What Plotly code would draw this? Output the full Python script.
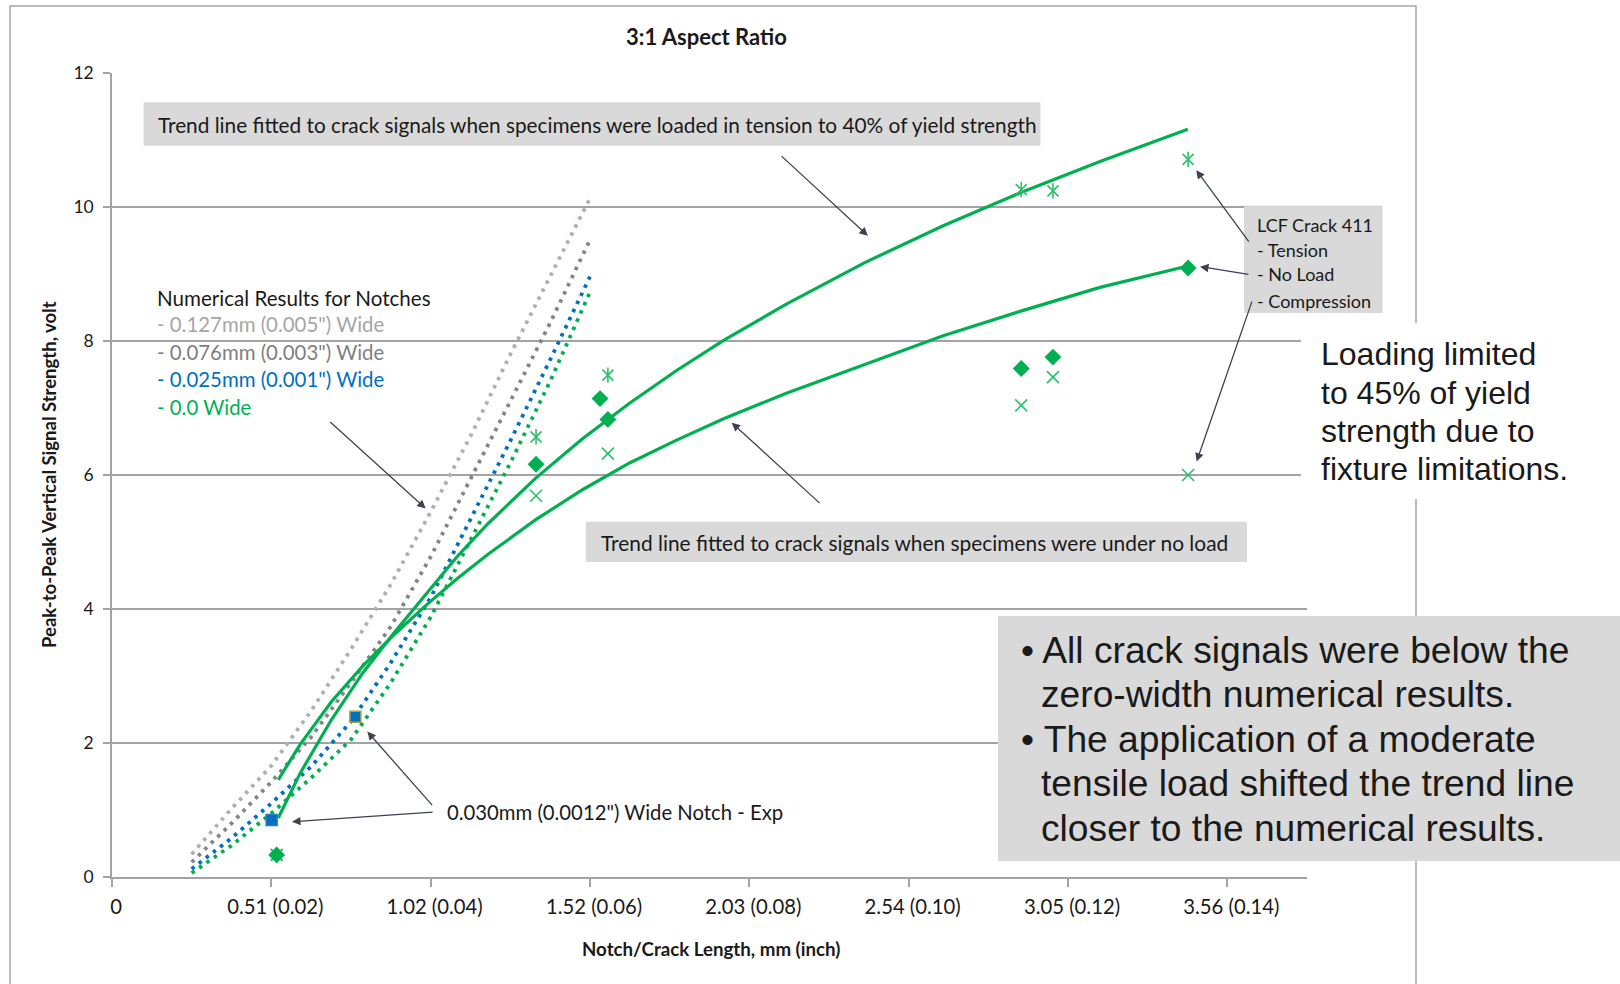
import plotly.graph_objects as go

# ---- numerical results for notches (x: length in mm, y: signal in volts) ----
notch_x = [0.254, 0.381, 0.508, 0.635, 0.762, 0.889, 1.016, 1.143, 1.270, 1.397, 1.524]
notch_127 = [0.34, 1.02, 1.66, 2.48, 3.40, 4.37, 5.45, 6.58, 7.80, 8.98, 10.13]
notch_076 = [0.22, 0.80, 1.42, 2.09, 2.90, 3.74, 4.78, 5.93, 7.10, 8.27, 9.51]
notch_025 = [0.12, 0.58, 1.10, 1.65, 2.32, 3.20, 4.17, 5.33, 6.51, 7.72, 8.96]
notch_000 = [0.06, 0.47, 0.95, 1.48, 2.05, 2.90, 3.88, 5.03, 6.18, 7.40, 8.73]

# ---- trend lines fitted to crack signals ----
trend_x = [0.53, 0.60, 0.70, 0.80, 0.90, 1.00, 1.10, 1.20, 1.35, 1.50,
           1.65, 1.80, 1.95, 2.15, 2.40, 2.65, 2.90, 3.15, 3.43]
trend_tension = [0.88, 1.55, 2.35, 3.05, 3.65, 4.22, 4.78, 5.28, 5.95, 6.54,
                 7.07, 7.56, 8.01, 8.55, 9.17, 9.72, 10.22, 10.68, 11.16]
trend_noload = [1.45, 1.98, 2.62, 3.15, 3.62, 4.05, 4.45, 4.82, 5.33, 5.78,
                6.18, 6.52, 6.84, 7.22, 7.65, 8.08, 8.45, 8.80, 9.12]

# ---- LCF crack 411 measurements ----
tension_x = [0.525, 1.352, 1.581, 2.899, 3.000, 3.431]
tension_y = [0.33, 6.57, 7.49, 10.26, 10.24, 10.71]
noload_x = [0.525, 1.352, 1.556, 1.581, 2.899, 3.000, 3.431]
noload_y = [0.33, 6.16, 7.14, 6.83, 7.59, 7.76, 9.09]
compression_x = [0.525, 1.352, 1.581, 2.899, 3.000, 3.431]
compression_y = [0.33, 5.69, 6.32, 7.04, 7.46, 6.00]

# ---- 0.030mm wide notch, experiment ----
exp_x = [0.509, 0.776]
exp_y = [0.85, 2.39]

# ---- axis ticks ----
x_tickvals = [0, 0.508, 1.016, 1.524, 2.032, 2.540, 3.048, 3.556]
x_ticktext = ["0", "0.51 (0.02)", "1.02 (0.04)", "1.52 (0.06)", "2.03 (0.08)",
              "2.54 (0.10)", "3.05 (0.12)", "3.56 (0.14)"]
y_tickvals = [0, 2, 4, 6, 8, 10, 12]

GREEN = "#00B050"
GREEN_X = "#2cc06a"
BLUE = "#0070C0"
LGRAY = "#b0b0b0"
DGRAY = "#858585"
GRID = "#a3a3a3"
TXT = "#1a1a1a"
LATO = "Lato"
ARIAL = "Liberation Sans, Arial"

W, H = 1620, 984
ML, MR, MT, MB = 112, 313, 73, 107
PW, PH = W - ML - MR, H - MT - MB


def px(x):
    return (x - ML) / PW


def py(y):
    return (H - MB - y) / PH


fig = go.Figure()

dot = "3.5px,5.5px"
for ys, col in [(notch_127, LGRAY), (notch_076, DGRAY), (notch_025, BLUE), (notch_000, GREEN)]:
    fig.add_trace(go.Scatter(x=notch_x, y=ys, mode="lines",
                             line=dict(color=col, width=3.8, dash=dot)))

for ys in [trend_tension, trend_noload]:
    fig.add_trace(go.Scatter(x=trend_x, y=ys, mode="lines",
                             line=dict(color=GREEN, width=3.2)))

# tension: star marker (x plus vertical stroke)
fig.add_trace(go.Scatter(x=tension_x, y=tension_y, mode="markers",
                         marker=dict(symbol="x-thin-open", size=11, color=GREEN_X,
                                     line=dict(color=GREEN_X, width=1.6))))
fig.add_trace(go.Scatter(x=tension_x, y=tension_y, mode="markers",
                         marker=dict(symbol="line-ns-open", size=11, color=GREEN_X,
                                     line=dict(color=GREEN_X, width=1.6))))
fig.add_trace(go.Scatter(x=compression_x, y=compression_y, mode="markers",
                         marker=dict(symbol="x-thin-open", size=12, color=GREEN_X,
                                     line=dict(color=GREEN_X, width=1.6))))
fig.add_trace(go.Scatter(x=noload_x, y=noload_y, mode="markers",
                         marker=dict(symbol="diamond", size=13, color=GREEN)))
fig.add_trace(go.Scatter(x=exp_x, y=exp_y, mode="markers",
                         marker=dict(symbol="square", size=11, color=BLUE,
                                     line=dict(color=["#2a78c4", "#a6a63a"], width=1.5))))

shapes = []
# outer chart frame
shapes.append(dict(type="rect", xref="paper", yref="paper", layer="below",
                   x0=px(10), x1=px(1416), y0=py(1000), y1=py(6),
                   line=dict(color="#a6a6a6", width=1.5), fillcolor="rgba(0,0,0,0)"))
BOX = "#d9d9d9"
for (x0, y0, x1, y1, fill) in [
    (143.6, 102.3, 1040.5, 145.7, BOX),
    (585.8, 521.8, 1247.0, 562.0, BOX),
    (1244.0, 205.6, 1382.5, 313.0, BOX),
    (1301.0, 323.0, 1565.0, 499.0, "#ffffff"),
    (998.0, 616.0, 1620.0, 861.0, BOX),
]:
    shapes.append(dict(type="rect", xref="paper", yref="paper", layer="above",
                       x0=px(x0), x1=px(x1), y0=py(y1), y1=py(y0),
                       line=dict(width=0), fillcolor=fill))

ann = []


def text(x, y, s, size, color=TXT, family=LATO, anchor="left", bold=False):
    if bold:
        s = "<b>" + s + "</b>"
    ann.append(dict(xref="paper", yref="paper", x=px(x), y=py(y), text=s,
                    showarrow=False, xanchor=anchor, yanchor="middle",
                    font=dict(size=size, color=color, family=family)))


text(706, 36, "3:1 Aspect Ratio", 22, anchor="center", bold=True)
text(711, 949, "Notch/Crack Length, mm (inch)", 18.7, anchor="center", bold=True)
ann.append(dict(xref="paper", yref="paper", x=px(49), y=py(475), textangle=-90,
                text="<b>Peak-to-Peak Vertical Signal Strength, volt</b>", showarrow=False,
                xanchor="center", yanchor="middle",
                font=dict(size=18.5, color=TXT, family=LATO)))

text(156, 124, "Trend line fitted to crack signals when specimens were loaded in tension to 40% of yield strength", 20.8)
text(599, 542, "Trend line fitted to crack signals when specimens were under no load", 20.9)

text(155, 297.6, "Numerical Results for Notches", 20.6)
text(155, 324.4, "- 0.127mm (0.005\") Wide", 20.4, color="#a6a6a6")
text(155, 352.3, "- 0.076mm (0.003\") Wide", 20.4, color="#7f7f7f")
text(155, 379.2, "- 0.025mm (0.001\") Wide", 20.4, color=BLUE)
text(155, 407.0, "- 0.0 Wide", 20.4, color=GREEN)

text(445, 812, "0.030mm (0.0012\") Wide Notch - Exp", 20.3)

for yy, s in [(225, "LCF Crack 411"), (250, "- Tension"), (274, "- No Load"), (300.7, "- Compression")]:
    text(1255, yy, s, 18)

for yy, s in [(354.4, "Loading limited"), (392.6, "to 45% of yield"),
              (430.8, "strength due to"), (469.1, "fixture limitations.")]:
    text(1319, yy, s, 32, family=ARIAL)

for yy, s, bullet in [(649.9, "\u2022 All crack signals were below the", True),
                      (694.3, "zero-width numerical results.", False),
                      (738.7, "\u2022 The application of a moderate", True),
                      (783.2, "tensile load shifted the trend line", False),
                      (827.6, "closer to the numerical results.", False)]:
    if bullet:
        text(1019, yy, s, 37.2, family=ARIAL)
    else:
        text(1039, yy, s, 37.2, family=ARIAL)

# pointer arrows (head -> tail, in data coordinates)
arrows = [
    ((2.41, 9.57), (2.13, 10.78)),
    ((1.00, 5.50), (0.691, 6.81)),
    ((1.976, 6.78), (2.261, 5.56)),
    ((0.574, 0.825), (1.027, 0.97)),
    ((0.814, 2.17), (1.025, 1.05)),
    ((3.457, 10.55), (3.628, 9.46)),
    ((3.469, 9.11), (3.628, 8.99)),
    ((3.458, 6.20), (3.636, 8.61)),
]
for (hx, hy), (tx, ty) in arrows:
    ann.append(dict(x=hx, y=hy, ax=tx, ay=ty, xref="x", yref="y", axref="x", ayref="y",
                    text="", showarrow=True, arrowhead=2, arrowsize=1.3, arrowwidth=1.3,
                    arrowcolor="#3d4350", standoff=0, startstandoff=0))

fig.update_layout(
    width=W, height=H,
    margin=dict(l=ML, r=MR, t=MT, b=MB),
    paper_bgcolor="white", plot_bgcolor="white",
    showlegend=False,
    shapes=shapes, annotations=ann,
    xaxis=dict(range=[0, 3.81], tickvals=x_tickvals, ticktext=x_ticktext,
               showgrid=False, zeroline=False, showline=True, linecolor=GRID, linewidth=1.5,
               ticks="outside", ticklen=8, tickcolor=GRID, tickwidth=1.5,
               ticklabelstandoff=3, ticklabelshift=4,
               tickfont=dict(family=LATO, size=20.3, color=TXT)),
    yaxis=dict(range=[0, 12], tickvals=y_tickvals,
               showgrid=True, gridcolor=GRID, gridwidth=1.5, zeroline=False,
               showline=True, linecolor=GRID, linewidth=1.5,
               ticks="outside", ticklen=7, tickcolor=GRID, tickwidth=1.5,
               ticklabelstandoff=6,
               tickfont=dict(family=LATO, size=17.5, color=TXT)),
)

fig.write_html("out.html")
